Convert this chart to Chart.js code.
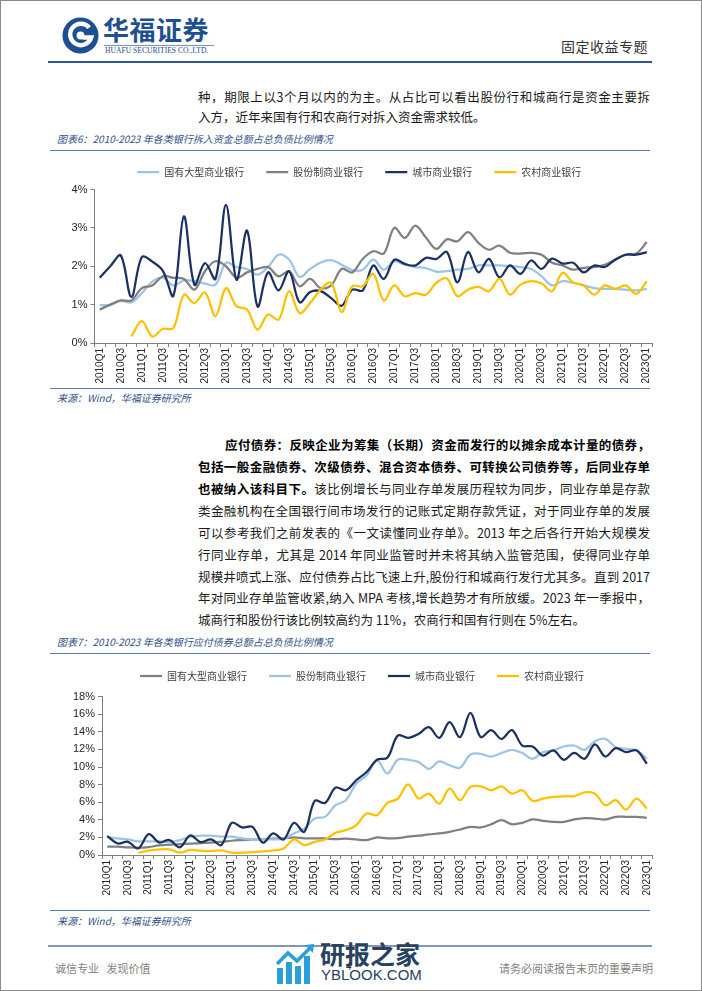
<!DOCTYPE html>
<html>
<head>
<meta charset="utf-8">
<script src="https://cdn.jsdelivr.net/npm/chart.js@4.4.1/dist/chart.umd.min.js"></script>
<style>
  html, body { margin: 0; padding: 0; background: #fff; }
  #page { position: relative; width: 702px; height: 991px; overflow: hidden; background: #fff;
          font-family: "Noto Sans CJK SC", sans-serif; color: #1a1a1a; }
  #frame { position: absolute; left: 0; top: 0; width: 702px; height: 991px; box-sizing: border-box;
           border: 1px solid #8a8a8a; pointer-events: none; }
  .abs { position: absolute; }
  .ln { position: absolute; left: 198px; width: 452px; height: 20px; line-height: 20px; font-size: 12.5px;
        text-align: justify; text-align-last: justify; }
  .ln.last { text-align: left; text-align-last: left; }
  .ln b { font-weight: 700; color: #000; }
  .cap { position: absolute; left: 57px; font-size: 10px; line-height: 14px; font-style: italic; color: #2f4f8a; }
  .rule { position: absolute; left: 50px; width: 600px; height: 1px; background: #5a7db5; }
  .foot { position: absolute; top: 960px; font-size: 11px; line-height: 16px; color: #808080; }
  canvas { display: block; }
</style>
</head>
<body>
<div id="page">
  <!-- header -->
  <svg class="abs" style="left:61px;top:16px" width="39" height="39" viewBox="0 0 40 40">
    <circle cx="20" cy="20" r="18.5" fill="#1d4f91"/>
    <path d="M 29 12 A 11 11 0 1 0 31 22 L 22 22" fill="none" stroke="#fff" stroke-width="4.5"/>
    <circle cx="20" cy="20" r="4" fill="#fff"/>
  </svg>
  <div class="abs" style="left:103px;top:13px;font-size:26px;line-height:32px;font-weight:700;color:#1d4f91;letter-spacing:0.5px">华福证券</div>
  <div class="abs" style="left:104px;top:45px;width:110px;height:1px;background:#7f93b5"></div>
  <div class="abs" style="left:105px;top:46px;font-family:'Liberation Serif',serif;font-size:7.6px;line-height:9px;color:#1d4f91">HUAFU SECURITIES CO.,LTD.</div>
  <div class="abs" style="left:561px;top:37px;font-size:14px;line-height:18px;color:#333;letter-spacing:0.5px">固定收益专题</div>
  <div class="abs" style="left:48px;top:61px;width:604px;height:2px;background:#2f5597"></div>

  <!-- paragraph 1 -->
  <div class="ln" style="top:87px">种，期限上以3个月以内的为主。从占比可以看出股份行和城商行是资金主要拆</div>
  <div class="ln last" style="top:107px">入方，近年来国有行和农商行对拆入资金需求较低。</div>

  <!-- figure 6 -->
  <div class="cap" style="top:132px">图表6：2010-2023 年各类银行拆入资金总额占总负债比例情况</div>
  <div class="rule" style="top:150px"></div>
  <div class="abs" style="left:0;top:145px"><canvas id="c1" width="702" height="241"></canvas></div>
  <div class="rule" style="top:388px"></div>
  <div class="cap" style="top:391px">来源：Wind，华福证券研究所</div>

  <!-- paragraph 2 -->
  <div class="ln" style="top:435px;left:225px;width:425px"><b>应付债券：反映企业为筹集（长期）资金而发行的以摊余成本计量的债券，</b></div>
  <div class="ln" style="top:457px"><b>包括一般金融债券、次级债券、混合资本债券、可转换公司债券等，后同业存单</b></div>
  <div class="ln" style="top:479px"><b>也被纳入该科目下。</b>该比例增长与同业存单发展历程较为同步，同业存单是存款</div>
  <div class="ln" style="top:501px">类金融机构在全国银行间市场发行的记账式定期存款凭证，对于同业存单的发展</div>
  <div class="ln" style="top:523px">可以参考我们之前发表的《一文读懂同业存单》。2013 年之后各行开始大规模发</div>
  <div class="ln" style="top:545px">行同业存单，尤其是 2014 年同业监管时并未将其纳入监管范围，使得同业存单</div>
  <div class="ln" style="top:567px">规模井喷式上涨、应付债券占比飞速上升,股份行和城商行发行尤其多。直到 2017</div>
  <div class="ln" style="top:588px">年对同业存单监管收紧,纳入 MPA 考核,增长趋势才有所放缓。2023 年一季报中，</div>
  <div class="ln last" style="top:610px">城商行和股份行该比例较高约为 11%，农商行和国有行则在 5%左右。</div>

  <!-- figure 7 -->
  <div class="cap" style="top:635px">图表7：2010-2023 年各类银行应付债券总额占总负债比例情况</div>
  <div class="rule" style="top:653px"></div>
  <div class="abs" style="left:0;top:649px"><canvas id="c2" width="702" height="249"></canvas></div>
  <div class="rule" style="top:910px"></div>
  <div class="cap" style="top:914px">来源：Wind，华福证券研究所</div>

  <!-- footer -->
  <div class="abs" style="left:48px;top:945px;width:604px;height:2px;background:#8497b0"></div>
  <div class="foot" style="left:55px">诚信专业&nbsp;&nbsp;&nbsp;发现价值</div>
  <div class="foot" style="left:499px">请务必阅读报告末页的重要声明</div>

  <!-- watermark -->
  <svg class="abs" style="left:274px;top:942px" width="44" height="44" viewBox="0 0 44 44">
    <rect x="3" y="26" width="6" height="16" fill="#2a9fd8"/>
    <rect x="12" y="20" width="6" height="22" fill="#2a9fd8"/>
    <rect x="21" y="24" width="6" height="18" fill="#2a9fd8"/>
    <rect x="30" y="14" width="6" height="28" fill="#2a9fd8"/>
    <path d="M 3 22 L 14 11 L 23 19 L 37 5" fill="none" stroke="#2a9fd8" stroke-width="3.5"/>
    <path d="M 31 3 L 40 2 L 39 11 Z" fill="#2a9fd8"/>
  </svg>
  <div class="abs" style="left:320px;top:938px;font-size:25px;line-height:30px;font-weight:700;color:#27415f">研报之家</div>
  <div class="abs" style="left:321px;top:966px;font-family:'Liberation Sans',sans-serif;font-size:15px;line-height:18px;color:#27415f">YBLOOK.COM</div>
  <div class="abs" style="left:346px;top:961px;font-family:'Liberation Sans',sans-serif;font-size:10px;line-height:12px;color:#333">4</div>

  <div id="frame"></div>
</div>

<script>
// quarters 2010Q1 .. 2023Q1
const quarters = [
  '2010Q1','2010Q2','2010Q3','2010Q4','2011Q1','2011Q2','2011Q3','2011Q4',
  '2012Q1','2012Q2','2012Q3','2012Q4','2013Q1','2013Q2','2013Q3','2013Q4',
  '2014Q1','2014Q2','2014Q3','2014Q4','2015Q1','2015Q2','2015Q3','2015Q4',
  '2016Q1','2016Q2','2016Q3','2016Q4','2017Q1','2017Q2','2017Q3','2017Q4',
  '2018Q1','2018Q2','2018Q3','2018Q4','2019Q1','2019Q2','2019Q3','2019Q4',
  '2020Q1','2020Q2','2020Q3','2020Q4','2021Q1','2021Q2','2021Q3','2021Q4',
  '2022Q1','2022Q2','2022Q3','2022Q4','2023Q1'
];
const bankNames = ['国有大型商业银行', '股份制商业银行', '城市商业银行', '农村商业银行'];

// 图表6: 拆入资金 / 总负债 (%)
const borrowState = [0.99,0.99,1.10,1.06,1.30,1.60,1.70,1.50,1.63,1.61,1.55,1.52,2.09,1.98,1.93,1.78,
  1.98,2.30,2.17,1.72,1.93,2.10,2.16,2.04,1.90,1.91,2.17,1.91,2.13,2.04,1.98,1.95,1.86,1.87,1.91,1.93,
  2.02,2.02,2.02,2.00,1.98,1.93,1.74,1.50,1.61,1.57,1.50,1.43,1.41,1.41,1.39,1.37,1.41];
const borrowJoint = [0.87,1.00,1.11,1.11,1.43,1.50,1.74,1.70,1.67,1.39,1.87,2.13,2.00,1.70,1.84,1.93,
  1.98,1.74,1.87,1.48,1.67,1.43,1.50,1.93,1.84,2.19,2.39,2.33,3.00,2.74,3.06,2.75,2.45,2.70,2.65,2.89,
  2.61,2.43,2.54,2.35,2.33,2.35,2.30,2.09,2.02,1.91,1.96,1.98,2.04,2.17,2.30,2.33,2.63];
const borrowCity = [1.70,2.00,2.28,1.20,2.24,2.12,1.88,1.23,3.30,1.52,2.08,1.67,3.60,1.65,2.93,0.95,
  1.84,1.37,1.87,1.06,1.33,1.35,1.17,0.97,1.39,1.37,2.02,1.67,2.17,2.06,2.02,2.22,2.19,2.37,1.58,2.37,
  1.84,2.19,1.71,2.02,1.80,2.15,1.93,2.20,2.07,2.09,1.84,2.02,1.98,2.17,2.30,2.30,2.37];
const borrowRural = [null,null,null,0.17,0.57,0.17,0.37,0.39,1.26,1.04,1.32,0.70,1.43,0.96,0.87,0.35,
  0.74,0.61,1.35,0.78,1.04,1.39,1.57,0.81,1.48,1.48,1.80,1.11,1.50,1.22,1.30,1.26,1.57,1.68,1.22,1.39,
  1.46,1.35,1.67,1.26,1.52,1.61,1.55,1.35,1.83,1.58,1.50,1.26,1.50,1.41,1.50,1.28,1.61];

// 图表7: 应付债券 / 总负债 (%)
const bondState = [0.94,0.94,0.87,0.83,0.90,1.09,1.17,1.25,1.28,1.36,1.40,1.50,1.62,1.70,1.77,1.80,
  1.85,1.89,2.00,1.89,1.89,1.89,1.80,1.85,1.77,1.70,2.00,1.89,1.92,2.08,2.19,2.34,2.45,2.64,2.90,3.20,
  3.13,3.50,3.96,3.50,3.66,4.04,3.89,3.77,3.77,4.04,4.19,4.15,4.04,4.34,4.34,4.34,4.23];
const bondJoint = [2.08,1.89,1.77,1.55,1.55,1.55,1.50,1.70,2.08,2.19,2.19,2.08,2.08,1.89,1.80,1.77,
  1.77,1.85,2.45,3.00,4.15,4.34,5.66,6.23,8.10,9.06,10.75,9.25,10.83,10.83,10.57,9.80,10.64,10.20,9.92,11.43,
  11.50,11.20,11.60,11.96,11.60,10.94,11.70,11.90,12.34,12.45,11.96,12.94,13.20,12.26,12.08,11.90,10.94];
const bondCity = [2.15,1.32,1.50,0.75,2.38,1.43,1.70,0.87,2.23,1.47,1.77,1.13,3.66,3.13,3.20,1.40,
  2.45,1.77,3.66,2.64,6.15,5.92,7.66,7.36,8.50,9.43,10.83,11.06,13.58,13.32,13.77,14.53,13.32,15.10,13.40,16.15,
  13.40,14.20,13.20,14.20,12.45,12.34,11.30,11.90,10.83,11.60,10.94,12.57,11.20,12.15,11.70,11.90,10.38];
const bondRural = [null,null,null,0.26,0.49,0.64,0.64,0.26,0.57,0.49,0.45,0.53,0.26,0.26,0.34,0.42,
  0.53,0.75,1.77,1.13,1.50,1.77,2.53,2.83,3.40,4.72,4.53,5.92,6.42,8.04,6.42,6.98,5.85,7.55,6.23,7.74,
  7.81,7.36,7.81,6.98,7.36,6.15,6.42,6.60,6.68,6.68,7.13,6.98,5.66,6.23,5.17,6.42,5.28];

const LIGHT = '#9dc3e6', GREY = '#808080', NAVY = '#1b3162', GOLD = '#ffc000';

Chart.defaults.font.family = '"Liberation Sans", Arial, sans-serif';
Chart.defaults.color = '#262626';

function series(i, data, color) {
  return {
    label: bankNames[i],
    data: data,
    borderColor: color,
    backgroundColor: color,
    borderWidth: 2.25,
    pointRadius: 0,
    pointHoverRadius: 0,
    pointStyle: 'line',
    tension: 0.35,
    fill: false,
    order: 3 - i // later series drawn on top, like the source
  };
}

function makeChart(id, datasets, yMax, yStep, opts) {
  return new Chart(document.getElementById(id), {
    type: 'line',
    data: { labels: quarters, datasets: datasets },
    options: {
      responsive: false,
      animation: false,
      events: [],
      layout: { padding: { left: opts.padLeft, right: 50, top: 0, bottom: 1 } },
      plugins: {
        tooltip: { enabled: false },
        legend: {
          position: 'top',
          labels: {
            usePointStyle: true,
            pointStyle: 'line',
            pointStyleWidth: 22,
            padding: 22,
            color: '#404040',
            font: { family: '"Noto Sans CJK SC", sans-serif', size: 10 },
            sort: (a, b) => a.datasetIndex - b.datasetIndex
          }
        },
        // empty title used only as a spacer between legend and plot
        title: { display: true, text: '', weight: 500, font: { size: 1, lineHeight: 1 },
                 padding: { top: 0, bottom: opts.gap } }
      },
      scales: {
        x: {
          offset: true,
          grid: { offset: true, drawOnChartArea: false, tickLength: 4, color: '#7f7f7f' },
          border: { color: '#7f7f7f', width: 1 },
          ticks: {
            autoSkip: false, maxRotation: 90, minRotation: 90, padding: 1,
            font: { size: 10 }, color: '#262626',
            callback: function (v, i) { return i % 2 === 0 ? this.getLabelForValue(v) : ''; }
          },
          afterFit: s => { s.height = 42; }
        },
        y: {
          min: 0, max: yMax,
          grid: { drawOnChartArea: false, tickLength: 4, color: '#7f7f7f' },
          border: { color: '#7f7f7f', width: 1 },
          ticks: { stepSize: yStep, padding: 3, font: { size: 11 }, color: '#262626',
                   callback: v => v + '%' },
          afterFit: s => { s.width = opts.yWidth; }
        }
      }
    }
  });
}

makeChart('c1', [
  series(0, borrowState, LIGHT),
  series(1, borrowJoint, GREY),
  series(2, borrowCity, NAVY),
  series(3, borrowRural, GOLD)
], 4, 1, { padLeft: 66.5, yWidth: 28, gap: 1.5 });

makeChart('c2', [
  series(0, bondState, GREY),
  series(1, bondJoint, LIGHT),
  series(2, bondCity, NAVY),
  series(3, bondRural, GOLD)
], 18, 2, { padLeft: 72, yWidth: 30, gap: 4.7 });
</script>
</body>
</html>
